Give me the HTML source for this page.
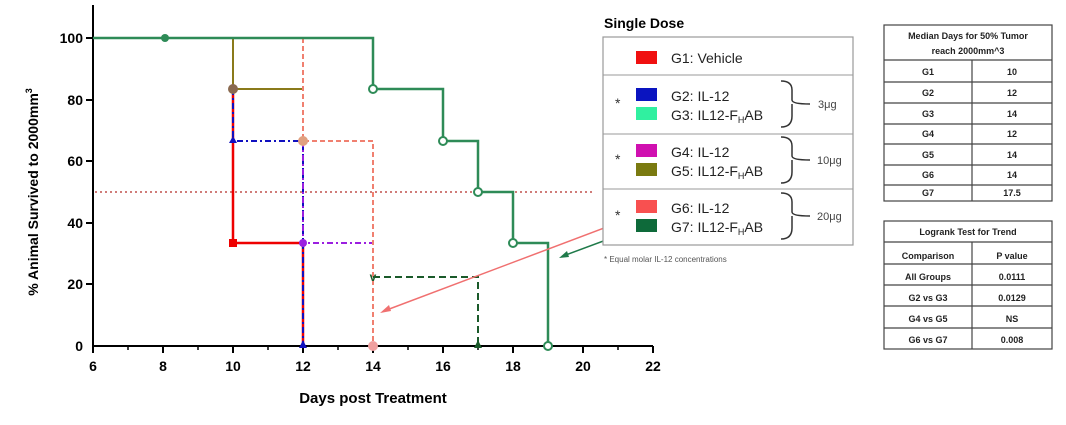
<!DOCTYPE html>
<html><head><style>
body{margin:0;background:#fff;width:1066px;height:420px;overflow:hidden;font-family:"Liberation Sans",sans-serif}
</style></head><body>
<svg width="1066" height="420" xmlns="http://www.w3.org/2000/svg" font-family="Liberation Sans, sans-serif">
<rect width="1066" height="420" fill="#fff"/>
<g stroke="#000" stroke-width="2" fill="none">
<line x1="93" y1="5" x2="93" y2="347"/>
<line x1="92" y1="346" x2="653" y2="346"/>
<line x1="86" y1="38" x2="93" y2="38"/><line x1="86" y1="100" x2="93" y2="100"/><line x1="86" y1="161" x2="93" y2="161"/><line x1="86" y1="223" x2="93" y2="223"/><line x1="86" y1="284" x2="93" y2="284"/>
<line x1="93" y1="346" x2="93" y2="353"/><line x1="163" y1="346" x2="163" y2="353"/><line x1="233" y1="346" x2="233" y2="353"/><line x1="303" y1="346" x2="303" y2="353"/><line x1="373" y1="346" x2="373" y2="353"/><line x1="443" y1="346" x2="443" y2="353"/><line x1="513" y1="346" x2="513" y2="353"/><line x1="583" y1="346" x2="583" y2="353"/><line x1="653" y1="346" x2="653" y2="353"/>
</g>
<g stroke="#000" stroke-width="1.5"><line x1="128" y1="346" x2="128" y2="350"/><line x1="198" y1="346" x2="198" y2="350"/><line x1="268" y1="346" x2="268" y2="350"/><line x1="338" y1="346" x2="338" y2="350"/><line x1="408" y1="346" x2="408" y2="350"/><line x1="478" y1="346" x2="478" y2="350"/><line x1="548" y1="346" x2="548" y2="350"/><line x1="618" y1="346" x2="618" y2="350"/></g>
<g font-size="14" font-weight="bold" text-anchor="end"><text x="83" y="43">100</text><text x="83" y="105">80</text><text x="83" y="166">60</text><text x="83" y="228">40</text><text x="83" y="289">20</text><text x="83" y="351">0</text></g>
<g font-size="14" font-weight="bold" text-anchor="middle"><text x="93" y="371">6</text><text x="163" y="371">8</text><text x="233" y="371">10</text><text x="303" y="371">12</text><text x="373" y="371">14</text><text x="443" y="371">16</text><text x="513" y="371">18</text><text x="583" y="371">20</text><text x="653" y="371">22</text></g>
<text x="373" y="403" font-size="15" font-weight="bold" text-anchor="middle">Days post Treatment</text>
<text transform="translate(38,192) rotate(-90)" font-size="14" font-weight="bold" text-anchor="middle">% Animal Survived to 2000mm<tspan dy="-6" font-size="9">3</tspan></text>
<line x1="95" y1="192" x2="593" y2="192" stroke="#c0504d" stroke-width="1.5" stroke-dasharray="2,3"/>
<polyline points="93,38 233,38 233,89 303,89" fill="none" stroke="#8a7a1a" stroke-width="2"/>
<polyline points="233,89 233,243 303,243 303,346" fill="none" stroke="#e00" stroke-width="2.5"/>
<polyline points="233,89 233,141 303,141 303,346" fill="none" stroke="#1010c0" stroke-width="2" stroke-dasharray="6,3,2,3"/>
<polyline points="303,141 303,243 373,243" fill="none" stroke="#9b1fe0" stroke-width="2" stroke-dasharray="6,3,2,3"/>
<polyline points="303,38 303,141 373,141 373,346" fill="none" stroke="#f08070" stroke-width="2" stroke-dasharray="5,3"/>
<polyline points="373,277 478,277 478,346" fill="none" stroke="#1a5a2a" stroke-width="2" stroke-dasharray="7,4"/>
<polyline points="93,38 373,38 373,89 443,89 443,141 478,141 478,192 513,192 513,243 548,243 548,346" fill="none" stroke="#2e8b57" stroke-width="2.5"/>
<g stroke="#2e8b57" stroke-width="2" fill="#fff"><circle cx="373" cy="89" r="4"/><circle cx="443" cy="141" r="4"/><circle cx="478" cy="192" r="4"/><circle cx="513" cy="243" r="4"/><circle cx="548" cy="346" r="4"/></g>
<circle cx="165" cy="38" r="4" fill="#2e8b57"/>
<circle cx="233" cy="89" r="5" fill="#8a6a50"/>
<polygon points="233,136 229,143 237,143" fill="#1010c0"/>
<circle cx="303" cy="141" r="5" fill="#e0a080"/>
<rect x="229" y="239" width="8" height="8" fill="#e00"/>
<circle cx="303" cy="243" r="4" fill="#9b1fe0"/>
<polygon points="303,340 299,348 307,348" fill="#1010c0"/>
<circle cx="373" cy="346" r="5" fill="#f0a0a0"/>
<text x="373" y="281" font-size="12" font-weight="bold" fill="#1a5a2a" text-anchor="middle">v</text>
<polygon points="478,340 474,348 482,348" fill="#1a5a2a"/>
<line x1="636" y1="216" x2="384" y2="311" stroke="#f07070" stroke-width="1.5"/>
<polygon points="380,313 389,305 391,311" fill="#f07070"/>
<line x1="633" y1="230" x2="563" y2="256" stroke="#1f7a4a" stroke-width="1.5"/>
<polygon points="559,258 567,251 569,257" fill="#1f7a4a"/>
<text x="604" y="28" font-size="14" font-weight="bold">Single Dose</text>
<rect x="603" y="37" width="250" height="208" fill="#fff" stroke="#999" stroke-width="1.2"/>
<g stroke="#999" stroke-width="1"><line x1="603" y1="75" x2="853" y2="75"/><line x1="603" y1="134" x2="853" y2="134"/><line x1="603" y1="189" x2="853" y2="189"/></g>
<g><rect x="636" y="51" width="21" height="13" fill="#f01010"/><rect x="636" y="88" width="21" height="13" fill="#0a14c0"/><rect x="636" y="107" width="21" height="13" fill="#30f0a0"/><rect x="636" y="144" width="21" height="13" fill="#d010b0"/><rect x="636" y="163" width="21" height="13" fill="#7a7a10"/><rect x="636" y="200" width="21" height="13" fill="#f85050"/><rect x="636" y="219" width="21" height="13" fill="#0e6a3a"/></g>
<g font-size="14" fill="#222"><text x="671" y="63">G1:  Vehicle</text><text x="671" y="101">G2:  IL-12</text><text x="671" y="120">G3:  IL12-F<tspan font-size="9" dy="3">H</tspan><tspan dy="-3">AB</tspan></text><text x="671" y="157">G4:  IL-12</text><text x="671" y="176">G5:  IL12-F<tspan font-size="9" dy="3">H</tspan><tspan dy="-3">AB</tspan></text><text x="671" y="213">G6:  IL-12</text><text x="671" y="232">G7:  IL12-F<tspan font-size="9" dy="3">H</tspan><tspan dy="-3">AB</tspan></text></g>
<g font-size="14" fill="#333"><text x="615" y="108">*</text><text x="615" y="164">*</text><text x="615" y="220">*</text></g>
<g fill="none" stroke="#333" stroke-width="1.5"><path d="M781,81 Q792,81 792,90 V100 Q792,104 810,104 M792,104 Q792,108 792,116 Q792,127 781,127"/><path d="M781,137 Q792,137 792,146 V156 Q792,160 810,160 M792,160 V172 Q792,183 781,183"/><path d="M781,193 Q792,193 792,202 V212 Q792,216 810,216 M792,216 V228 Q792,239 781,239"/></g>
<g font-size="11" fill="#444"><text x="818" y="108">3μg</text><text x="817" y="164">10μg</text><text x="817" y="220">20μg</text></g>
<text x="604" y="262" font-size="8" fill="#555">* Equal molar IL-12 concentrations</text>
<g stroke="#444" stroke-width="1.2" fill="none"><rect x="884" y="25" width="168" height="176"/><line x1="884" y1="60" x2="1052" y2="60"/><line x1="972" y1="60" x2="972" y2="201"/>
<line x1="884" y1="82" x2="1052" y2="82"/><line x1="884" y1="103" x2="1052" y2="103"/><line x1="884" y1="124" x2="1052" y2="124"/><line x1="884" y1="144" x2="1052" y2="144"/><line x1="884" y1="165" x2="1052" y2="165"/><line x1="884" y1="185" x2="1052" y2="185"/>
<rect x="884" y="221" width="168" height="128"/><line x1="884" y1="242" x2="1052" y2="242"/><line x1="972" y1="242" x2="972" y2="349"/><line x1="884" y1="264" x2="1052" y2="264"/><line x1="884" y1="285" x2="1052" y2="285"/><line x1="884" y1="306" x2="1052" y2="306"/><line x1="884" y1="328" x2="1052" y2="328"/></g>
<g font-size="9" font-weight="bold" text-anchor="middle" fill="#222">
<text x="968" y="39">Median Days for 50% Tumor</text><text x="968" y="54">reach 2000mm^3</text>
<text x="928" y="75">G1</text><text x="1012" y="75">10</text>
<text x="928" y="96">G2</text><text x="1012" y="96">12</text>
<text x="928" y="117">G3</text><text x="1012" y="117">14</text>
<text x="928" y="137">G4</text><text x="1012" y="137">12</text>
<text x="928" y="158">G5</text><text x="1012" y="158">14</text>
<text x="928" y="178">G6</text><text x="1012" y="178">14</text>
<text x="928" y="196">G7</text><text x="1012" y="196">17.5</text>
<text x="968" y="235">Logrank Test for Trend</text>
<text x="928" y="259">Comparison</text><text x="1012" y="259">P value</text>
<text x="928" y="280">All Groups</text><text x="1012" y="280">0.0111</text>
<text x="928" y="301">G2 vs G3</text><text x="1012" y="301">0.0129</text>
<text x="928" y="322">G4 vs G5</text><text x="1012" y="322">NS</text>
<text x="928" y="343">G6 vs G7</text><text x="1012" y="343">0.008</text>
</g>
</svg>
</body></html>
